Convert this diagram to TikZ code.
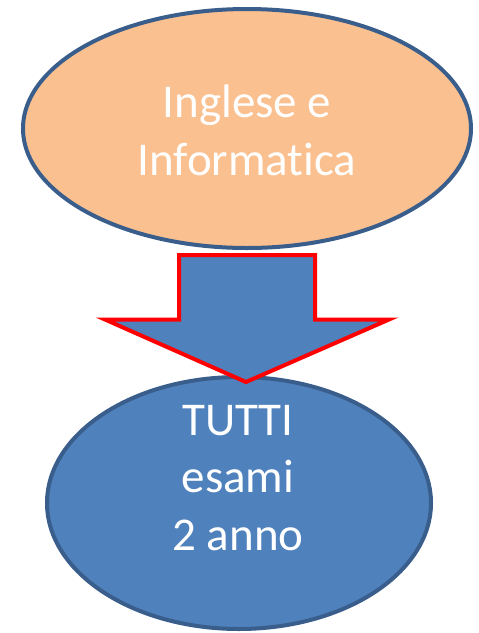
\documentclass[tikz,border=0pt]{standalone}
\usepackage{fontspec}
\setmainfont{Carlito}[Ligatures={NoCommon,NoDiscretionary,NoContextual}]
\definecolor{peach}{HTML}{FAC090}
\definecolor{edgeblue}{HTML}{3A5E8C}
\definecolor{fillblue}{HTML}{4F81BD}
\begin{document}
\begin{tikzpicture}[x=1pt,y=-1pt,
  bubble/.style={line width=4pt, draw=edgeblue},
  lbl/.style={text=white, font=\fontsize{47}{58}\selectfont, anchor=base}]
\useasboundingbox (0,0) rectangle (479,633);
\fill[peach, bubble] (247,128.5) ellipse [x radius=224, y radius=119.5];
\fill[fillblue, bubble] (239,503) ellipse [x radius=192, y radius=126];
\draw[fill=fillblue, draw=red, line width=4pt, line join=miter]
  (179,255) -- (315,255) -- (315,319.5) -- (389,319.5) -- (246,382) -- (105,319.5) -- (179,319.5) -- cycle;
\node[lbl] (t1) at (247,117) {Inglese e};
\node[lbl] (t2) at (247,175) {Informatica};
\node[lbl] (b1) at (238,435) {TUTTI};
\node[lbl] (b2) at (238,492) {esami};
\node[lbl] (b3) at (238,550) {2 anno};
\end{tikzpicture}
\end{document}
